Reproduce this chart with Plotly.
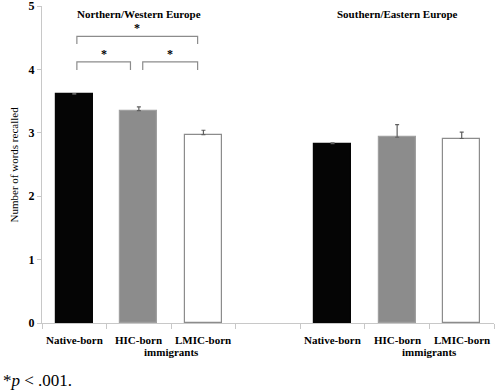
import plotly.graph_objects as go

categories = ["Native-born", "HIC-born", "LMIC-born", "", "Native-born", "HIC-born", "LMIC-born"]
values = [3.61, 3.35, 2.97, None, 2.83, 2.93, 2.91]
errors = [0.01, 0.06, 0.07, 0, 0.01, 0.20, 0.10]
fills = ["#050505", "#8c8c8c", "#ffffff", "#ffffff", "#050505", "#8c8c8c", "#ffffff"]
lines = ["#050505", "#a0a0a0", "#8c8c8c", "#ffffff", "#050505", "#a0a0a0", "#8c8c8c"]
y_ticks = [0, 1, 2, 3, 4, 5]
region_titles = ["Northern/Western Europe", "Southern/Eastern Europe"]
second_line = "immigrants"

x = list(range(len(categories)))
serif = "Times New Roman, Liberation Serif, serif"

fig = go.Figure()
fig.add_trace(go.Bar(
    x=x, y=values, width=0.57,
    marker=dict(color=fills, line=dict(color=lines, width=1.2)),
    error_y=dict(type="data", array=errors, arrayminus=[0] * len(errors),
                 symmetric=False, color="#606060", thickness=1.2, width=2),
    showlegend=False,
))

annotations = []
for i, c in enumerate(categories):
    if c:
        annotations.append(dict(x=i, y=0, xref="x", yref="y", text="<b>" + c + "</b>", showarrow=False,
                                yshift=-17, font=dict(family=serif, size=11, color="black")))
for g in (0, 4):
    annotations.append(dict(x=g + 1.5, y=0, xref="x", yref="y", text="<b>" + second_line + "</b>",
                            showarrow=False, yshift=-29, font=dict(family=serif, size=11, color="black")))
annotations.append(dict(x=1, y=5, xref="x", yref="y", text="<b>" + region_titles[0] + "</b>",
                        showarrow=False, yshift=-8, font=dict(family=serif, size=11, color="black")))
annotations.append(dict(x=5, y=5, xref="x", yref="y", text="<b>" + region_titles[1] + "</b>",
                        showarrow=False, yshift=-8, font=dict(family=serif, size=11, color="black")))
# significance brackets
shapes = []
brackets = [(0.04, 1.91, 4.52, 4.40), (0.04, 0.87, 4.12, 3.99), (1.06, 1.91, 4.12, 3.99)]
for x0, x1, top, bot in brackets:
    shapes.append(dict(type="path", xref="x", yref="y",
                       path=f"M {x0},{bot} L {x0},{top} L {x1},{top} L {x1},{bot}",
                       line=dict(color="#8c8c8c", width=1.2)))
    annotations.append(dict(x=(x0 + x1) / 2, y=top, xref="x", yref="y", text="<b>*</b>",
                            showarrow=False, yshift=8, font=dict(family=serif, size=12, color="black")))

annotations.append(dict(x=0, y=0, xref="paper", yref="paper", text="*<i>p</i> < .001.",
                        showarrow=False, xanchor="left", yanchor="middle", yshift=-57, xshift=-41,
                        font=dict(family=serif, size=17, color="black")))
annotations.append(dict(x=0, y=0.5, xref="paper", yref="paper", text="Number of words recalled",
                        showarrow=False, textangle=-90, xanchor="center", yanchor="middle", xshift=-29,
                        font=dict(family=serif, size=11, color="black")))

fig.update_layout(
    width=498, height=391,
    margin=dict(l=42, r=4, t=6, b=68, autoexpand=False),
    plot_bgcolor="white", paper_bgcolor="white",
    bargap=0,
    xaxis=dict(range=[-0.5, 6.5], tickvals=[i - 0.5 for i in range(8)], showticklabels=False,
               ticks="outside", ticklen=5, tickcolor="#c8c8c8", showline=True, linecolor="#c8c8c8",
               showgrid=False, zeroline=False, automargin=False),
    yaxis=dict(range=[0, 5], tickvals=y_ticks, ticktext=[f"<b>{t}</b>" for t in y_ticks],
               ticks="outside", ticklen=4, tickcolor="#c8c8c8", showline=True, linecolor="#c8c8c8",
               showgrid=False, zeroline=False, automargin=False, ticklabeloverflow="allow",
               tickfont=dict(family=serif, size=12, color="black")),
    annotations=annotations, shapes=shapes,
)

fig.write_html("out.html", config={"displayModeBar": False},
               post_script="document.body.style.margin='0';document.body.style.overflow='hidden';")
